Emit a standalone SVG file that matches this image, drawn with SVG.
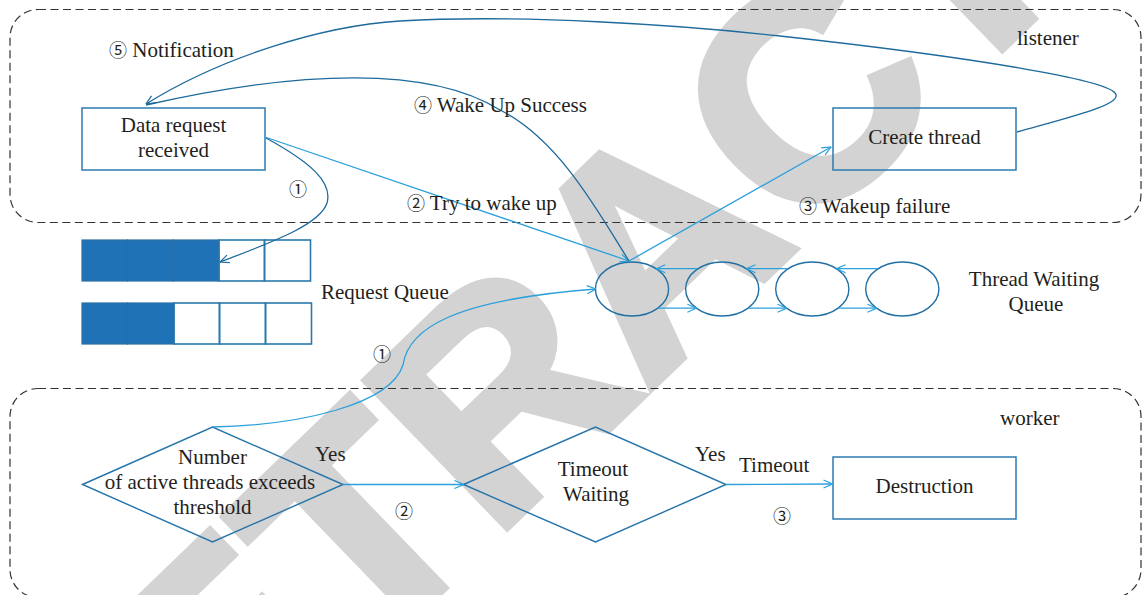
<svg xmlns="http://www.w3.org/2000/svg" width="1143" height="595" viewBox="0 0 1143 595">
<style>
.t{font-family:"Liberation Serif","Times New Roman",serif;font-size:21px;fill:#231f20}
.m{text-anchor:middle}
.c{font-family:"Noto Sans CJK SC","DejaVu Sans",sans-serif;font-size:18px}
.region{fill:none;stroke:#333;stroke-width:1.2;stroke-dasharray:8 4.5}
.box{fill:none;stroke:#2b7bb1;stroke-width:1.5}
.dia{fill:none;stroke:#2474ab;stroke-width:1.4}
.ell{fill:none;stroke:#216fa3;stroke-width:1.4}
.cell{fill:none;stroke:#2a78ad;stroke-width:1.6}
.full{fill:#1f72b6;stroke:#2a6fa3;stroke-width:1.2}
.dk{fill:none;stroke:#1d6a9c;stroke-width:1.3}
.lt{fill:none;stroke:#2aa0dc;stroke-width:1.3}
.wm{font-family:"Liberation Sans",Arial,sans-serif;font-weight:bold;font-size:295px;fill:#d3d3d3;stroke:#d3d3d3;stroke-width:9;stroke-linejoin:miter}
</style>
<defs>
<marker id="al" viewBox="0 0 10 10" refX="9.5" refY="5" markerWidth="10" markerHeight="10" markerUnits="userSpaceOnUse" orient="auto"><path d="M0.5,1 L9.5,5 L0.5,9" fill="none" stroke="#2aa0dc" stroke-width="1.2"/></marker>
<marker id="ad" viewBox="0 0 10 10" refX="9.5" refY="5" markerWidth="10" markerHeight="10" markerUnits="userSpaceOnUse" orient="auto"><path d="M0.5,1 L9.5,5 L0.5,9" fill="none" stroke="#1d6a9c" stroke-width="1.2"/></marker>
</defs>
<rect width="1143" height="595" fill="#fff"/>
<text class="wm" x="723" y="318" text-anchor="middle" transform="rotate(-44 723 318)">RETRACTED</text>

<g id="listener">
<rect class="region" x="10" y="9.5" width="1131" height="213" rx="28"/>
<text class="t" x="1017" y="45">listener</text>
</g>
<g id="worker">
<rect class="region" x="10" y="388.5" width="1131" height="209" rx="28"/>
<text class="t" x="1000" y="425">worker</text>
</g>

<g id="data-request">
<rect class="box" x="82" y="108" width="183" height="62"/>
<text class="t m" x="173.5" y="132">Data request</text>
<text class="t m" x="173.5" y="157">received</text>
</g>
<g id="create-thread">
<rect class="box" x="833" y="108" width="183" height="62"/>
<text class="t m" x="924.5" y="144">Create thread</text>
</g>

<g id="request-queue">
<rect class="full" x="82" y="240" width="45.5" height="41"/>
<rect class="full" x="127.5" y="240" width="45.5" height="41"/>
<rect class="full" x="173" y="240" width="46" height="41"/>
<rect class="cell" x="219" y="240" width="45.5" height="41"/>
<rect class="cell" x="264.5" y="240" width="46" height="41"/>
<rect class="full" x="82" y="303" width="45.5" height="41"/>
<rect class="full" x="127.5" y="303" width="46.5" height="41"/>
<rect class="cell" x="174" y="303" width="45.5" height="41"/>
<rect class="cell" x="219.5" y="303" width="46" height="41"/>
<rect class="cell" x="265.5" y="303" width="46" height="41"/>
<text class="t" x="321" y="299">Request Queue</text>
</g>

<g id="thread-waiting-queue">
<ellipse class="ell" cx="632" cy="289" rx="36.6" ry="27"/>
<ellipse class="ell" cx="722.2" cy="289" rx="36.6" ry="27"/>
<ellipse class="ell" cx="812.3" cy="289" rx="36.6" ry="27"/>
<ellipse class="ell" cx="902.3" cy="289" rx="36.6" ry="27"/>
<text class="t m" x="1034" y="286">Thread Waiting</text>
<text class="t m" x="1036" y="311">Queue</text>
</g>

<g id="threshold-decision">
<polygon class="dia" points="82.5,484.5 212.5,427 343,484.5 212.5,542"/>
<text class="t m" x="212.5" y="464">Number</text>
<text class="t m" x="210" y="489">of active threads exceeds</text>
<text class="t m" x="212.5" y="514">threshold</text>
</g>
<g id="timeout-waiting">
<polygon class="dia" points="463.5,484.5 595.5,427 726,484.5 595.5,542"/>
<text class="t m" x="593" y="476">Timeout</text>
<text class="t m" x="596" y="501">Waiting</text>
</g>
<g id="destruction">
<rect class="box" x="833" y="457" width="183" height="62"/>
<text class="t m" x="924.5" y="493">Destruction</text>
</g>

<g id="connectors">
<path class="dk" d="M266,138 C310,162 333,182 327,203 C320,225 270,243 220,262" marker-end="url(#ad)"/>
<text class="t c m" x="298" y="196">①</text>
<path class="lt" d="M265,137 L629,261" marker-end="url(#al)"/>
<text class="t" x="407" y="210"><tspan class="c">②</tspan> Try to wake up</text>
<path class="lt" d="M629,261 L831,147" marker-end="url(#al)"/>
<text class="t" x="799" y="213"><tspan class="c">③</tspan> Wakeup failure</text>
<path class="dk" d="M629,261 C600,215 560,140 500,110 C430,66 300,70 146,105"/>
<text class="t" x="414" y="112"><tspan class="c">④</tspan> Wake Up Success</text>
<path class="dk" d="M1017,132 C1070,117 1125,104 1115,93 C1105,80 980,58 780,36 C680,25 520,14 400,21 C320,26 220,58 146,104" marker-end="url(#ad)"/>
<text class="t" x="109" y="57"><tspan class="c">⑤</tspan> Notification</text>

<path class="lt" d="M697.9,268.7 L656.3,268.7" marker-end="url(#al)"/>
<path class="lt" d="M788,268.7 L746.5,268.7" marker-end="url(#al)"/>
<path class="lt" d="M878,268.7 L836.6,268.7" marker-end="url(#al)"/>
<path class="lt" d="M657.8,308.2 L696.4,308.2" marker-end="url(#al)"/>
<path class="lt" d="M748,308.2 L786.5,308.2" marker-end="url(#al)"/>
<path class="lt" d="M838,308.2 L876.5,308.2" marker-end="url(#al)"/>

<path class="lt" d="M213,427 C300,425 390,405 403,365 C408,330 450,300 596,289" marker-end="url(#al)"/>
<text class="t c m" x="382" y="361">①</text>
<path class="lt" d="M343,484.5 L463.5,484.5" marker-end="url(#al)"/>
<text class="t" x="315" y="461">Yes</text>
<text class="t c m" x="404" y="518">②</text>
<path class="lt" d="M726,484.5 L832.5,484" marker-end="url(#al)"/>
<text class="t" x="695" y="461">Yes</text>
<text class="t" x="739" y="472">Timeout</text>
<text class="t c m" x="782" y="523">③</text>
</g>
</svg>
